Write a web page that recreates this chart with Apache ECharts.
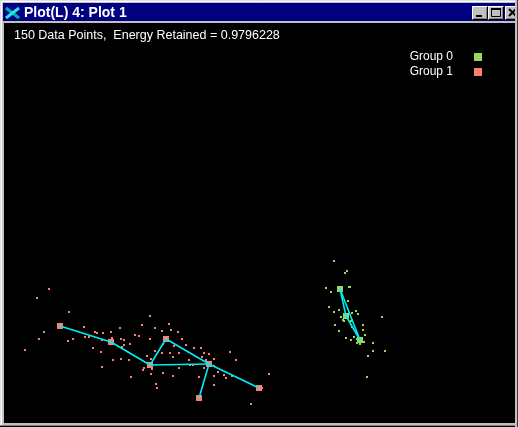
<!DOCTYPE html>
<html><head><meta charset="utf-8">
<script src="https://cdn.jsdelivr.net/npm/echarts@6/dist/echarts.min.js"></script>
<style>html,body{margin:0;padding:0;background:#c0c0c0;}#c{width:518px;height:427px;}</style>
</head><body><div id="c"></div>
<script>
// ---- data (PCA projection) ----
const windowTitle = 'Plot(L) 4: Plot 1';
const subtitle = '150 Data Points,  Energy Retained = 0.9796228';
const groupNames = ['Group 0', 'Group 1'];

const group0Points = [
  [1.50,1.24],[1.76,1.04],[1.72,1.00],[1.34,0.70],[1.44,0.62],[1.80,0.72],[1.82,0.72],
  [1.78,0.44],[1.40,0.32],[1.50,0.22],[1.60,0.26],[1.86,0.20],[1.94,0.24],[1.98,0.18],
  [2.46,0.12],[1.64,0.12],[1.68,0.06],[1.52,-0.04],[1.60,-0.16],[1.70,0.04],[1.84,0.04],
  [1.86,-0.08],[2.08,-0.04],[2.08,-0.14],[1.74,-0.30],[1.84,-0.34],[1.90,-0.28],[1.96,-0.32],
  [2.12,-0.24],[2.10,-0.38],[2.02,-0.42],[1.96,-0.40],[2.28,-0.40],[2.28,-0.56],[2.52,-0.56],
  [2.18,-0.66],[2.16,-1.08]
];
const group1Points = [
  [-4.20,0.68],[-4.44,0.50],[-3.80,0.22],[-4.30,-0.18],[-3.50,-0.08],[-3.28,-0.18],[-3.24,-0.20],
  [-3.12,-0.20],[-2.96,-0.18],[-2.78,-0.10],[-4.40,-0.32],[-3.82,-0.36],[-3.72,-0.32],[-3.48,-0.28],
  [-3.40,-0.28],[-3.14,-0.34],[-2.94,-0.30],[-2.76,-0.32],[-2.70,-0.34],[-2.48,-0.24],[-2.40,-0.26],
  [-2.18,0.14],[-2.34,-0.04],[-2.08,-0.10],[-2.18,-0.32],[-4.68,-0.54],[-3.32,-0.50],[-3.16,-0.58],
  [-2.74,-0.48],[-2.58,-0.42],[-2.70,-0.44],[-2.24,-0.66],[-2.16,-0.72],[-2.08,-0.56],[-2.92,-0.74],
  [-2.76,-0.72],[-2.60,-0.74],[-3.14,-0.88],[-2.30,-0.90],[-2.32,-0.94],[-2.14,-0.92],[-2.16,-1.02],
  [-2.56,-1.08],[-1.80,-0.02],[-1.94,-0.16],[-1.76,-0.14],[-1.62,-0.18],[-1.54,-0.32],[-1.92,-0.42],
  [-1.70,-0.46],[-1.46,-0.44],[-1.30,-0.50],[-1.16,-0.50],[-1.78,-0.60],[-1.60,-0.60],[-1.10,-0.60],
  [-1.00,-0.62],[-0.58,-0.58],[-1.94,-0.60],[-1.72,-0.68],[-1.14,-0.68],[-0.46,-0.74],[-1.06,-0.74],
  [-0.90,-0.72],[-1.40,-0.74],[-1.38,-0.84],[-1.32,-0.84],[-1.60,-0.90],[-1.10,-0.90],[-0.90,-0.86],
  [-0.82,-0.98],[-0.70,-1.04],[-0.66,-1.10],[-0.54,-1.06],[-1.92,-1.00],[-1.72,-1.06],[-1.20,-1.08],
  [-0.90,-1.06],[0.20,-1.02],[-2.06,-1.22],[-2.04,-1.30],[-0.90,-1.24],[0.06,-1.30],[-0.16,-1.62]
];
const group0Nodes = [[1.62,0.68],[1.74,0.14],[2.02,-0.34]];
const group1Nodes = [[-3.98,-0.06],[-2.96,-0.38],[-1.86,-0.32],[-2.18,-0.84],[-1.00,-0.82],[-1.20,-1.50],[0.00,-1.30]];
const group0Edges = [[0,1],[1,2],[0,2]];
const group1Edges = [[0,1],[1,3],[3,2],[3,4],[2,4],[4,6],[4,5]];

// ---- style ----
const C0 = '#9ad660', C1 = '#fa8072', CYAN = '#00eef4';
const FONT = 'Liberation Sans';

const series = [
  {name: groupNames[0], type:'scatter', data: group0Points, symbol:'rect', symbolSize:2, itemStyle:{color:C0, opacity:1}, silent:true, z:2},
  {name: groupNames[1], type:'scatter', data: group1Points, symbol:'rect', symbolSize:2, itemStyle:{color:C1, opacity:1}, silent:true, z:2},
  {name: groupNames[0], type:'scatter', data: group0Nodes, symbol:'rect', symbolSize:6, itemStyle:{color:C0, opacity:1}, silent:true, z:3},
  {name: groupNames[1], type:'scatter', data: group1Nodes, symbol:'rect', symbolSize:6, itemStyle:{color:C1, opacity:1}, silent:true, z:3}
];
function addEdges(nodes, edges, tag){
  edges.forEach((e,i)=>{
    series.push({name: tag+i, type:'line', data:[nodes[e[0]], nodes[e[1]]], symbol:'none',
      lineStyle:{color:CYAN, width:1.6}, silent:true, z:4, animation:false});
  });
}
addEdges(group0Nodes, group0Edges, 'e0_');
addEdges(group1Nodes, group1Edges, 'e1_');

function bevelButton(x, y, w, h){
  return [
    {type:'rect', shape:{x:x, y:y, width:w, height:h}, style:{fill:'#c0c0c0'}},
    {type:'polyline', shape:{points:[[x+0.5,y+h-0.5],[x+0.5,y+0.5],[x+w-0.5,y+0.5]]}, style:{stroke:'#ffffff', lineWidth:1, fill:null}},
    {type:'polyline', shape:{points:[[x+0.5,y+h-0.5],[x+w-0.5,y+h-0.5],[x+w-0.5,y+0.5]]}, style:{stroke:'#000000', lineWidth:1, fill:null}},
    {type:'polyline', shape:{points:[[x+1.5,y+h-1.5],[x+w-1.5,y+h-1.5],[x+w-1.5,y+1.5]]}, style:{stroke:'#808080', lineWidth:1, fill:null}}
  ];
}

const graphics = [
  // window frame
  {type:'rect', shape:{x:0,y:0,width:518,height:427}, style:{fill:'#c0c0c0'}, z:-10},
  {type:'polyline', shape:{points:[[0.5,426],[0.5,0.5],[518,0.5]]}, style:{stroke:'#dfdfdf', fill:null}, z:-9},
  {type:'polyline', shape:{points:[[1.5,426],[1.5,1.5],[518,1.5]]}, style:{stroke:'#ffffff', fill:null}, z:-9},
  {type:'line', shape:{x1:0,y1:426.5,x2:518,y2:426.5}, style:{stroke:'#000000'}, z:-9},
  {type:'line', shape:{x1:0,y1:425.5,x2:518,y2:425.5}, style:{stroke:'#808080'}, z:-9},
  // title bar
  {type:'rect', shape:{x:3,y:3,width:512,height:18}, style:{fill:'#000080'}, z:-8},
  // plot area
  {type:'rect', shape:{x:4,y:23,width:511,height:400}, style:{fill:'#000000'}, z:-8},
  // title icon
  {type:'line', shape:{x1:6,y1:8,x2:19,y2:18}, style:{stroke:'#00b0b0', lineWidth:3}, z:-7},
  {type:'line', shape:{x1:19,y1:8,x2:6,y2:18}, style:{stroke:'#20e8e8', lineWidth:3}, z:-7}
];
[[472,6,16,14],[488,6,16,14],[505,6,16,14]].forEach(b=>{
  bevelButton(b[0],b[1],b[2],b[3]).forEach(g=>{g.z=-6; graphics.push(g);});
});
graphics.push(
  {type:'rect', shape:{x:476,y:15,width:6,height:2}, style:{fill:'#000'}, z:-5},
  {type:'rect', shape:{x:491.5,y:8.5,width:9,height:8}, style:{fill:null, stroke:'#000', lineWidth:1}, z:-5},
  {type:'rect', shape:{x:491,y:8,width:10,height:2}, style:{fill:'#000'}, z:-5},
  {type:'line', shape:{x1:509,y1:9,x2:516,y2:16}, style:{stroke:'#000', lineWidth:2}, z:-5},
  {type:'line', shape:{x1:516,y1:9,x2:509,y2:16}, style:{stroke:'#000', lineWidth:2}, z:-5},
  {type:'rect', shape:{x:515,y:0,width:3,height:427}, style:{fill:'#c0c0c0'}, z:-4},
  {type:'line', shape:{x1:517.5,y1:0,x2:517.5,y2:427}, style:{stroke:'#404040'}, z:-4}
);

const chart = echarts.init(document.getElementById('c'), null, {renderer:'canvas'});
chart.setOption({
  animation:false,
  backgroundColor:'transparent',
  title:[
    {text: windowTitle, left:24, top:6, padding:0,
     textStyle:{color:'#ffffff', fontSize:14, fontWeight:'bold', fontFamily:FONT}},
    {text: subtitle, left:14, top:29, padding:0,
     textStyle:{color:'#ffffff', fontSize:12.5, fontWeight:'normal', fontFamily:FONT}}
  ],
  legend:{
    data: groupNames, orient:'vertical', right:36, top:51, align:'right', padding:0,
    itemWidth:8, itemHeight:8, itemGap:3, icon:'rect', selectedMode:false,
    itemStyle:{opacity:1},
    textStyle:{color:'#ffffff', fontSize:12, fontFamily:FONT, lineHeight:12, padding:[0,16,0,0]}
  },
  grid:{left:4, top:23, width:510, height:402, show:false},
  xAxis:{type:'value', min:-5.1, max:5.1, show:false},
  yAxis:{type:'value', min:-2.04, max:6.0, show:false},
  graphic: graphics,
  series: series
});
</script></body></html>
